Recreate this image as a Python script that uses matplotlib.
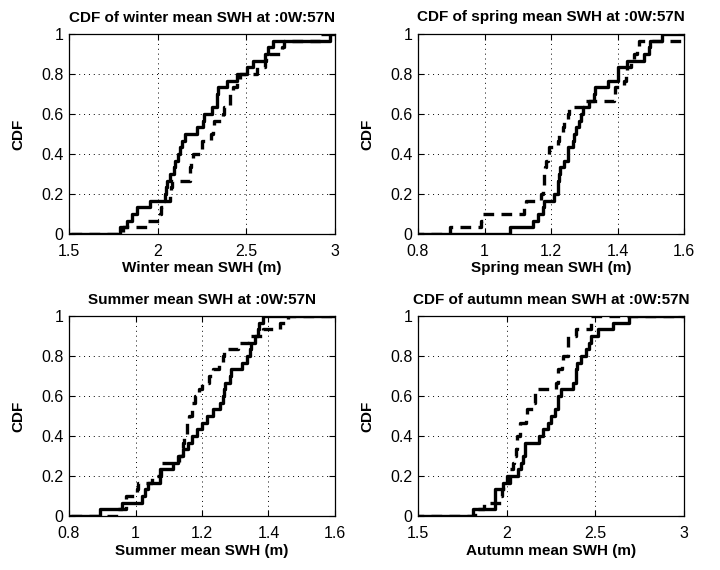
import numpy as np
import matplotlib
matplotlib.use("Agg")
import matplotlib.pyplot as plt

plt.rcParams['font.family'] = ['Liberation Sans', 'DejaVu Sans']

# Sorted seasonal mean SWH values (m)
winter_solid = [1.79, 1.825, 1.853, 1.882, 1.957, 2.04, 2.045, 2.05, 2.07, 2.09,
                2.10, 2.115, 2.126, 2.14, 2.154, 2.22, 2.257, 2.26, 2.305, 2.333,
                2.335, 2.34, 2.389, 2.446, 2.502, 2.54, 2.605, 2.624, 2.652, 2.97]
winter_dashed = [1.806, 1.94, 2.013, 2.02, 2.03, 2.07, 2.075, 2.08, 2.18, 2.185,
                 2.19, 2.20, 2.248, 2.25, 2.30, 2.314, 2.318, 2.37, 2.375, 2.408,
                 2.41, 2.427, 2.45, 2.464, 2.559, 2.605, 2.61, 2.70, 2.71, 2.915]
spring_solid = [1.076, 1.145, 1.16, 1.175, 1.178, 1.21, 1.22, 1.222, 1.225, 1.228,
                1.24, 1.25, 1.252, 1.265, 1.268, 1.276, 1.285, 1.29, 1.295, 1.315,
                1.33, 1.332, 1.37, 1.40, 1.402, 1.43, 1.48, 1.495, 1.497, 1.535]
spring_dashed = [0.896, 0.99, 0.995, 1.12, 1.125, 1.17, 1.175, 1.178, 1.18, 1.182,
                 1.185, 1.19, 1.195, 1.222, 1.225, 1.235, 1.24, 1.25, 1.255, 1.30,
                 1.39, 1.392, 1.42, 1.425, 1.43, 1.44, 1.45, 1.46, 1.465, 1.65]
summer_solid = [0.893, 0.958, 1.019, 1.029, 1.038, 1.074, 1.076, 1.114, 1.129, 1.144,
                1.159, 1.169, 1.184, 1.199, 1.214, 1.234, 1.254, 1.264, 1.266, 1.268,
                1.284, 1.286, 1.319, 1.334, 1.344, 1.346, 1.359, 1.369, 1.371, 1.384]
summer_dashed = [0.948, 0.97, 0.972, 1.005, 1.007, 1.05, 1.074, 1.076, 1.13, 1.14,
                 1.144, 1.146, 1.154, 1.156, 1.16, 1.169, 1.171, 1.18, 1.19, 1.199,
                 1.22, 1.234, 1.25, 1.264, 1.266, 1.309, 1.34, 1.384, 1.435, 1.46]
autumn_solid = [1.811, 1.933, 1.935, 1.937, 1.979, 2.017, 2.064, 2.083, 2.092, 2.101,
                2.103, 2.185, 2.204, 2.232, 2.251, 2.27, 2.288, 2.29, 2.307, 2.373,
                2.391, 2.393, 2.395, 2.419, 2.448, 2.466, 2.476, 2.513, 2.597, 2.69]
autumn_dashed = [1.82, 1.87, 1.97, 1.972, 2.0, 2.002, 2.02, 2.035, 2.04, 2.055,
                 2.057, 2.06, 2.073, 2.075, 2.11, 2.112, 2.15, 2.157, 2.16, 2.28,
                 2.288, 2.29, 2.31, 2.32, 2.344, 2.346, 2.348, 2.39, 2.476, 2.478]

titles = ["CDF of winter mean SWH at :0W:57N", "CDF of spring mean SWH at :0W:57N",
          "Summer mean SWH at :0W:57N", "CDF of autumn mean SWH at :0W:57N"]
xlabels = ["Winter mean SWH (m)", "Spring mean SWH (m)",
           "Summer mean SWH (m)", "Autumn mean SWH (m)"]
xlims = [(1.5, 3), (0.8, 1.6), (0.8, 1.6), (1.5, 3)]
xticks = [[1.5, 2, 2.5, 3], [0.8, 1, 1.2, 1.4, 1.6], [0.8, 1, 1.2, 1.4, 1.6], [1.5, 2, 2.5, 3]]
xticklabels = [["1.5", "2", "2.5", "3"], ["0.8", "1", "1.2", "1.4", "1.6"],
               ["0.8", "1", "1.2", "1.4", "1.6"], ["1.5", "2", "2.5", "3"]]
yticks = [0, 0.2, 0.4, 0.6, 0.8, 1]
yticklabels = ["0", "0.2", "0.4", "0.6", "0.8", "1"]
series = [(winter_solid, winter_dashed), (spring_solid, spring_dashed),
          (summer_solid, summer_dashed), (autumn_solid, autumn_dashed)]

fig = plt.figure(figsize=(7.2, 5.7), dpi=100)
W, H = 720, 570
boxes = [(69, 34), (418, 34), (69, 316), (418, 316)]
aw, ah = 266, 200


def cdf_line(ax, vals, **kw):
    v = np.sort(np.asarray(vals, dtype=float))
    n = len(v)
    x = np.concatenate([[-10.0], v, [10.0]])
    y = np.concatenate([[0.0], np.arange(1, n + 1) / n, [1.0]])
    ax.step(x, y, where='post', color='black', **kw)


for i in range(4):
    left, top = boxes[i]
    ax = fig.add_axes([left / W, 1 - (top + ah) / H, aw / W, ah / H])
    solid, dashed = series[i]
    cdf_line(ax, dashed, lw=2.4, linestyle=(0, (3.2, 2.2)))
    cdf_line(ax, solid, lw=2.4, linestyle='-')
    ax.set_xlim(*xlims[i])
    ax.set_ylim(0, 1)
    ax.set_xticks(xticks[i])
    ax.set_xticklabels(xticklabels[i])
    ax.set_yticks(yticks)
    ax.set_yticklabels(yticklabels)
    ax.grid(True, color='black', linestyle=(0, (1, 4)), linewidth=0.7)
    ax.tick_params(direction='in', top=True, right=True, labelsize=11.5,
                   length=4, width=0.8)
    ax.tick_params(axis='x', pad=7)
    ax.tick_params(axis='y', pad=4)
    for s in ax.spines.values():
        s.set_linewidth(0.9)
    ax.set_title(titles[i], fontsize=11, fontweight='bold', pad=9)
    ax.set_xlabel(xlabels[i], fontsize=11, fontweight='bold', labelpad=2)
    ax.set_ylabel("CDF", fontsize=11, fontweight='bold', labelpad=11)

fig.savefig("out.png", dpi=100)
